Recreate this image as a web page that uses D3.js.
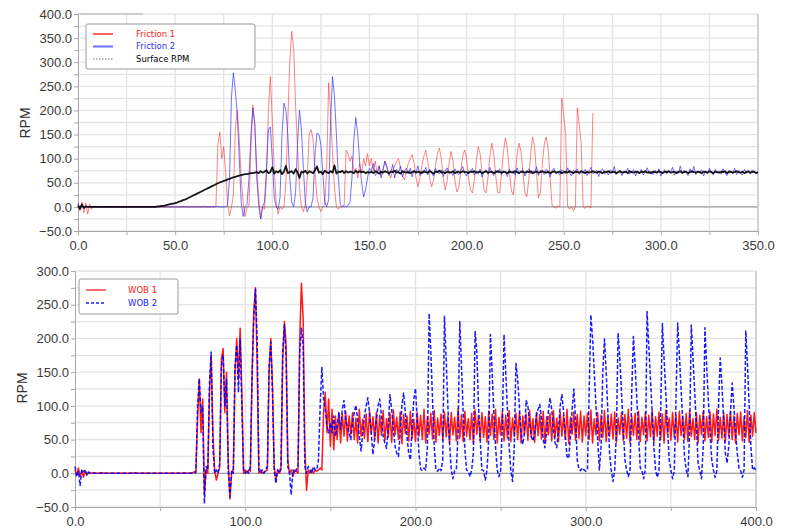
<!DOCTYPE html>
<head>
  <meta charset="utf-8">
  <script src="https://d3js.org/d3.v7.min.js"></script>
  <style>
    body { margin: 0; background: #fff; }
    svg { display: block; }
    .tick text { font-family: "Liberation Sans", Arial, sans-serif; font-size: 13px; fill: #3a3a3a; }
    .tick line { stroke: #a8a8a8; }
    .domain { stroke: #a8a8a8; }
    .ylabel { font-family: "Liberation Sans", Arial, sans-serif; font-size: 14px; fill: #333; }
    .legend text { font-family: "DejaVu Sans", sans-serif; font-size: 8.5px; }
  </style>
</head>

<body>
  <script>
    // ---- top panel: friction / surface RPM, one value per second starting at 0
    var friction1 = [
      5, -8, 10, -12, 8, -15, 6, -5, 2, 0,
      0, 0, 1, 0, 0, 0, 0, 0, 0, 0,
      0, 0, 0, 0, 0, 0, 0, 0, 0, 0,
      0, 0, 0, 0, 0, 0, 0, 0, 0, 0,
      0, 0, 0, 0, 0, 0, 0, 0, 0, 0,
      0, 0, 0, 0, 0, 0, 0, 0, 0, 0,
      0, 0, 0, 0, 0, 1, 0, 0, 0, 1,
      0, 2, 130, 155, 100, 125, 70, 5, -18, 0,
      25, 165, 200, 140, 60, 8, -20, 0, 2, 120,
      211, 170, 80, 20, -25, 0, -5, 60, 200, 270,
      180, 80, 10, -15, 0, -5, 0, 50, 180, 300,
      364, 330, 210, 120, 40, 0, -10, 5, 60, 150,
      160, 140, 70, 20, 0, -10, 0, 5, 80, 257,
      200, 110, 40, 0, -5, 0, 0, 5, 118, 110,
      95, 105, 75, 80, 60, 90, 70, 100, 85, 110,
      85, 100, 75, 95, 70, 85, 65, 80, 95, 85,
      70, 60, 75, 85, 95, 100, 80, 65, 56, 75,
      90, 100, 108, 90, 60, 42, 60, 85, 105, 118,
      95, 60, 42, 55, 85, 110, 122, 100, 60, 35,
      55, 90, 115, 95, 55, 31, 40, 75, 105, 118,
      100, 60, 35, 29, 55, 95, 125, 110, 70, 35,
      29, 60, 105, 132, 110, 65, 30, 29, 70, 115,
      143, 120, 75, 35, 25, 60, 110, 132, 115, 70,
      30, 21, 55, 110, 145, 125, 70, 19, 30, 90,
      130, 145, 120, 60, 3, 0, -3, 2, 0, 226,
      190, 150, 2, -5, 0, -8, 0, 205, 170, 130,
      0, -3, 2, 0, -2, 195
    ];

    var friction2 = [
      8, -5, 3, -3, 2, 0, 1, 0, 0, 0,
      0, 0, 0, 0, 0, 0, 0, 0, 0, 0,
      0, 0, 0, 0, 0, 0, 0, 0, 0, 0,
      0, 0, 0, 0, 0, 0, 0, 0, 0, 0,
      0, 0, 0, 0, 0, 0, 0, 0, 0, 0,
      0, 0, 0, 0, 0, 0, 0, 0, 0, 0,
      0, 0, 0, 0, 0, 0, 0, 0, 0, 0,
      0, 0, 1, 0, 0, 0, 0, 5, 60, 230,
      278, 240, 190, 100, 10, -20, 0, 5, 60, 150,
      205, 170, 60, 5, -25, 0, 10, 80, 160, 166,
      100, 20, 0, -5, 20, 150, 215, 200, 150, 60,
      10, 0, 30, 130, 201, 160, 80, 10, -10, 0,
      0, 20, 110, 153, 150, 130, 70, 10, 0, 15,
      180, 270, 230, 150, 60, 5, 0, 2, 0, 3,
      10, 60, 140, 185, 150, 90, 50, 21, 35, 60,
      80, 75, 90, 65, 70, 85, 60, 75, 95, 80,
      65, 72, 88, 60, 78, 70, 85, 62, 75, 80,
      68, 80, 62, 76, 72, 85, 65, 74, 70, 82,
      66, 78, 70, 64, 80, 72, 68, 77, 63, 74,
      81, 69, 73, 65, 79, 71, 67, 76, 84, 70,
      64, 75, 72, 80, 66, 74, 69, 78, 62, 73,
      77, 68, 82, 71, 65, 76, 70, 79, 67, 74,
      72, 63, 78, 70, 75, 66, 81, 69, 73, 77,
      64, 72, 79, 68, 74, 70, 83, 65, 76, 71,
      67, 78, 73, 62, 75, 80, 69, 72, 66, 77,
      74, 68, 81, 70, 64, 76, 72, 79, 67, 73,
      70, 78, 65, 74, 82, 69, 71, 76, 63, 75,
      79, 68, 73, 66, 77, 71, 84, 67, 72, 76,
      65, 74, 70, 80, 68, 73, 77, 64, 75, 71,
      78, 66, 72, 81, 69, 74, 67, 76, 70, 79,
      64, 73, 77, 68, 75, 71, 82, 66, 74, 70,
      85, 68, 76, 72, 65, 79, 70, 84, 67, 73,
      71, 77, 64, 75, 69, 80, 72, 66, 78, 70,
      74, 68, 79, 71, 65, 76, 73, 69, 80, 67,
      75, 71, 66, 78, 70, 74, 68, 77, 72, 69, 73
    ];

    var surfaceRpm = [
      3, -4, 5, -2, 1, 0, 0, 0, 0, 0,
      0, 0, 0, 0, 0, 0, 0, 0, 0, 0,
      0, 0, 0, 0, 0, 0, 0, 0, 0, 0,
      0, 0, 0, 0, 0, 0, 0, 0, 0, 0,
      0, 1, 1, 2, 2, 3, 4, 5, 6, 7,
      8, 9, 11, 12, 14, 15, 17, 19, 21, 23,
      25, 27, 29, 31, 33, 35, 37, 39, 41, 43,
      45, 47, 49, 51, 52, 54, 55, 57, 58, 60,
      61, 62, 64, 65, 66, 67, 68, 68, 69, 70,
      70, 71, 72, 70, 74, 71, 73, 76, 70, 72,
      82, 69, 74, 71, 76, 68, 73, 85, 70, 72,
      74, 69, 78, 72, 60, 73, 71, 75, 69, 74,
      72, 70, 76, 84, 71, 73, 68, 75, 72, 70,
      74, 71, 86, 69, 73, 72, 75, 70, 74, 71,
      73, 72, 70, 75, 71, 74, 72, 73, 70, 72,
      71, 73, 70, 74, 72, 69, 73, 71, 74, 72,
      70, 73, 72, 75, 71, 72, 69, 74, 72, 71,
      73, 70, 72, 74, 71, 73, 72, 70, 74, 72,
      71, 74, 72, 69, 73, 72, 75, 71, 72, 70,
      73, 72, 71, 74, 70, 72, 73, 71, 74, 72,
      72, 70, 73, 72, 74, 71, 72, 73, 70, 72,
      74, 71, 72, 73, 70, 72, 74, 72, 71, 73,
      72, 70, 73, 72, 71, 74, 72, 70, 73, 72,
      71, 73, 72, 74, 70, 72, 73, 71, 72, 74,
      72, 71, 73, 70, 72, 74, 71, 72, 73, 70,
      72, 73, 71, 74, 72, 70, 73, 72, 71, 74,
      72, 70, 73, 71, 72, 74, 72, 71, 73, 72,
      70, 73, 72, 74, 71, 72, 73, 70, 72, 74,
      71, 72, 73, 70, 74, 72, 71, 73, 72, 70,
      73, 72, 74, 71, 72, 70, 73, 72, 71, 74,
      72, 70, 73, 72, 74, 71, 72, 73, 70, 72,
      74, 71, 72, 73, 70, 72, 74, 72, 71, 73,
      72, 70, 73, 72, 71, 74, 72, 70, 73, 72,
      71, 73, 72, 74, 70, 72, 73, 71, 72, 74,
      72, 71, 73, 70, 72, 74, 71, 72, 73, 70, 72
    ];

    // ---- bottom panel: WOB 1 / WOB 2, one value per second starting at 0
    var wob1 = [
      5, -3, 8, -5, 3, -6, 4, -2, 1, 0,
      0, 1, 0, 0, 0, 0, 1, 0, 0, 0,
      0, 0, 0, 0, 0, 0, 0, 0, 0, 0,
      0, 0, 0, 0, 0, 1, 0, 0, 0, 0,
      0, 0, 0, 0, 0, 0, 0, 0, 0, 0,
      0, 0, 0, 0, 0, 0, 0, 0, 0, 0,
      0, 0, 0, 0, 1, 0, 0, 0, 0, 1,
      2, 3, 80, 140, 60, 110, -30, 5, 0, 120,
      175, 60, 5, -10, 0, 10, 170, 185, 90, 150,
      20, -38, 0, 5, 150, 200, 140, 215, 120, 0,
      5, 0, 5, 3, 150, 240, 275, 160, 0, 5,
      0, 2, 3, 5, 150, 200, 130, 10, -10, 5,
      0, 5, 170, 225, 190, 20, 0, 5, -5, 5,
      3, 0, 200, 282, 230, 40, -25, 5, 0, 5,
      0, 5, 3, 5, 8, 5, 90, 120, 60, 110,
      40, 95, 35, 85, 50, 90, 45, 88, 55, 92,
      48, 85, 58, 90, 50, 82, 45, 95, 55, 80,
      52, 88, 47, 92, 58, 84, 50, 90, 45, 86,
      56, 93, 49, 81, 53, 89, 46, 94, 57, 83,
      50, 91, 44, 87, 59, 85, 48, 92, 52, 80,
      47, 90, 55, 86, 50, 95, 45, 84, 58, 89,
      51, 93, 46, 82, 56, 88, 49, 91, 54, 85,
      45, 90, 57, 83, 48, 96, 52, 87, 47, 92,
      55, 81, 50, 89, 44, 94, 58, 86, 49, 90,
      53, 84, 46, 92, 56, 88, 50, 95, 45, 83,
      57, 90, 48, 86, 52, 93, 47, 82, 55, 89,
      50, 91, 45, 85, 58, 88, 49, 94, 53, 81,
      46, 90, 56, 87, 51, 92, 45, 84, 57, 89,
      48, 93, 53, 82, 47, 90, 55, 86, 50, 95,
      44, 83, 58, 91, 49, 87, 52, 92, 46, 85,
      56, 89, 50, 94, 45, 81, 57, 90, 48, 86,
      53, 93, 47, 84, 55, 88, 51, 91, 46, 82,
      58, 90, 49, 87, 52, 95, 45, 85, 56, 89,
      50, 92, 47, 83, 57, 90, 48, 86, 54, 93,
      46, 84, 55, 91, 50, 88, 45, 94, 58, 82,
      49, 90, 53, 87, 46, 92, 56, 85, 51, 89,
      47, 93, 55, 81, 50, 90, 45, 86, 57, 92,
      48, 84, 53, 91, 46, 88, 56, 95, 49, 83,
      52, 90, 47, 87, 55, 92, 50, 85, 45, 89,
      57, 91, 48, 84, 53, 93, 46, 86, 55, 90, 60
    ];

    var wob2 = [
      10, -5, 3, -18, 6, 2, 5, -3, 2, 0,
      0, 0, 0, 0, 0, 0, 0, 0, 0, 0,
      0, 0, 0, 0, 0, 0, 0, 0, 0, 0,
      0, 0, 0, 0, 0, 0, 0, 0, 0, 0,
      0, 0, 0, 0, 0, 0, 0, 0, 0, 0,
      0, 0, 0, 0, 0, 0, 0, 0, 0, 0,
      0, 0, 0, 0, 0, 0, 0, 0, 0, 0,
      0, 1, 100, 140, 90, 100, -45, 10, 5, 135,
      180, 40, 0, 5, 0, 15, 160, 175, 100, 140,
      5, -35, 5, 0, 160, 190, 120, 200, 100, 5,
      0, 5, 0, 10, 140, 230, 273, 200, 5, 0,
      5, 0, 5, 10, 160, 195, 120, 5, -15, 5,
      0, 10, 180, 220, 170, 10, 0, -32, 5, 0,
      5, 10, 180, 215, 190, 10, 0, 10, 5, 0,
      10, 5, 5, 20, 100, 158, 110, 95, 70, 60,
      75, 60, 85, 55, 70, 90, 65, 95, 108, 80,
      70, 60, 50, 75, 90, 101, 80, 55, 33, 60,
      85, 100, 112, 90, 60, 28, 50, 80, 100, 110,
      85, 55, 45, 37, 70, 117, 95, 65, 40, 30,
      25, 60, 100, 119, 90, 55, 30, 20, 70, 110,
      126, 80, 30, 6, 4, 8, 5, 40, 237, 180,
      110, 40, 5, 3, 8, 4, 20, 233, 170, 100,
      45, 5, -8, 4, 6, 60, 225, 160, 90, 35,
      5, 3, -5, 5, 30, 211, 180, 100, 50, 5,
      4, -10, 5, 50, 206, 150, 90, 40, 5, -5,
      4, 70, 206, 150, 95, 40, 4, -12, 40, 163,
      140, 100, 60, 43, 60, 108, 100, 75, 55, 48,
      60, 85, 95, 102, 80, 50, 38, 60, 90, 112,
      95, 65, 45, 38, 65, 100, 117, 90, 55, 25,
      22, 55, 95, 125, 80, 20, 6, 4, 8, 5,
      3, 6, 120, 235, 200, 150, 100, 50, 5, 40,
      150, 199, 150, 90, 30, 4, -12, 5, 60, 208,
      170, 120, 70, 20, 5, -5, 4, 120, 203, 160,
      110, 60, 8, 4, -8, 6, 240, 190, 140, 90,
      40, 5, -6, 4, 90, 222, 170, 120, 70, 20,
      5, -8, 4, 110, 223, 175, 125, 75, 25, 5,
      -5, 60, 220, 170, 120, 70, 15, 4, -8, 40,
      216, 160, 110, 60, 20, 5, -6, 4, 100, 171,
      130, 80, 30, 15, 40, 90, 134, 100, 60, 30,
      8, 4, -6, 5, 211, 160, 100, 40, 5, 8, 4
    ];

    var topXTicks = [0, 50, 100, 150, 200, 250, 300, 350];
    var topYTicks = [-50, 0, 50, 100, 150, 200, 250, 300, 350, 400];
    var bottomXTicks = [0, 100, 200, 300, 400];
    var bottomYTicks = [-50, 0, 50, 100, 150, 200, 250, 300];

    var svg = d3.select("body").append("svg")
      .attr("width", 786)
      .attr("height", 530);

    var fmt = d3.format(".1f");

    function toPoints(values) {
      return values.map(function(v, i) { return [i, v]; });
    }

    function drawPanel(p) {
      var x = d3.scaleLinear().domain(p.xDomain).range([p.left, p.right]);
      var y = d3.scaleLinear().domain(p.yDomain).range([p.bottom, p.top]);
      var g = svg.append("g");

      var xMinor = d3.range(p.xDomain[0], p.xDomain[1] + 0.01, p.xStep);
      var yMinor = d3.range(p.yDomain[0], p.yDomain[1] + 0.01, 25);

      // grid
      g.append("g").selectAll("line").data(xMinor.slice(1)).join("line")
        .attr("x1", function(d) { return x(d); }).attr("x2", function(d) { return x(d); })
        .attr("y1", p.top).attr("y2", p.bottom)
        .attr("stroke", "#e4e4e4").attr("stroke-width", 1.3);
      g.append("g").selectAll("line").data(yMinor).join("line")
        .attr("x1", p.left).attr("x2", p.right)
        .attr("y1", function(d) { return y(d); }).attr("y2", function(d) { return y(d); })
        .attr("stroke", "#e4e4e4").attr("stroke-width", 1.3);

      // zero line and frame
      g.append("line")
        .attr("x1", p.left).attr("x2", p.right)
        .attr("y1", y(0)).attr("y2", y(0))
        .attr("stroke", "#a0a0a0").attr("stroke-width", 1.2);
      g.append("line")
        .attr("x1", p.right).attr("x2", p.right)
        .attr("y1", p.top).attr("y2", p.bottom)
        .attr("stroke", "#c4c4c4").attr("stroke-width", 1.3);
      if (p.topEdge) {
        g.append("line")
          .attr("x1", p.left).attr("x2", p.topEdge)
          .attr("y1", p.top).attr("y2", p.top)
          .attr("stroke", "#c4c4c4").attr("stroke-width", 1.3);
      }

      // axes
      g.append("g")
        .attr("transform", "translate(0," + p.bottom + ")")
        .call(d3.axisBottom(x).tickValues(xMinor).tickSize(4).tickSizeOuter(0)
          .tickFormat(function(d) { return p.xTicks.indexOf(d) >= 0 ? fmt(d) : ""; }))
        .call(function(a) { a.selectAll("text").attr("dy", "0.95em"); });
      g.append("g")
        .attr("transform", "translate(" + p.left + ",0)")
        .call(d3.axisLeft(y).tickValues(yMinor).tickSize(4).tickSizeOuter(0)
          .tickFormat(function(d) { return p.yTicks.indexOf(d) >= 0 ? fmt(d) : ""; }))
        .call(function(a) { a.selectAll("text").attr("x", -6); });

      g.append("text")
        .attr("class", "ylabel")
        .attr("transform", "translate(" + p.labelX + "," + p.labelY + ") rotate(-90)")
        .attr("text-anchor", "middle")
        .text("RPM");

      var line = d3.line()
        .x(function(d) { return x(d[0]); })
        .y(function(d) { return y(d[1]); });

      var plot = g.append("g");
      p.series.forEach(function(s) {
        plot.append("path")
          .datum(toPoints(s.values))
          .attr("fill", "none")
          .attr("stroke", s.color)
          .attr("stroke-width", s.width)
          .attr("stroke-opacity", s.opacity)
          .attr("stroke-dasharray", s.dash || null)
          .attr("stroke-linejoin", "round")
          .attr("d", line);
      });

      // legend
      var lg = g.append("g").attr("class", "legend");
      lg.append("rect")
        .attr("x", p.legend.x).attr("y", p.legend.y)
        .attr("width", p.legend.w).attr("height", p.legend.h)
        .attr("rx", 2)
        .attr("fill", "#fff").attr("stroke", "#9a9a9a").attr("stroke-width", 1);
      p.legend.items.forEach(function(it, i) {
        var yy = p.legend.y + p.legend.first + i * p.legend.gap;
        lg.append("line")
          .attr("x1", p.legend.x + 7).attr("x2", p.legend.x + 27)
          .attr("y1", yy).attr("y2", yy)
          .attr("stroke", it.color).attr("stroke-width", it.width)
          .attr("stroke-dasharray", it.dash || null);
        lg.append("text")
          .attr("x", p.legend.x + p.legend.textX).attr("y", yy)
          .attr("dy", "0.35em")
          .attr("fill", it.textColor)
          .text(it.label);
      });
    }

    drawPanel({
      xDomain: [0, 350], yDomain: [-50, 400],
      left: 78, right: 758, top: 14, bottom: 231,
      xStep: 25, xTicks: topXTicks, yTicks: topYTicks,
      topEdge: 143, labelX: 30, labelY: 123,
      series: [
        { values: friction1, color: "#ff2020", width: 1, opacity: 0.55 },
        { values: friction2, color: "#2020ff", width: 1, opacity: 0.62 },
        { values: surfaceRpm, color: "#000", width: 1.8, opacity: 0.9 }
      ],
      legend: {
        x: 86, y: 24, w: 169, h: 45, first: 10, gap: 12.5, textX: 50,
        items: [
          { label: "Friction 1", color: "#ff6060", width: 2, textColor: "#ff2020" },
          { label: "Friction 2", color: "#7070ff", width: 2, textColor: "#3030ff" },
          { label: "Surface RPM", color: "#777", width: 1.2, dash: "1.5,1.5", textColor: "#000" }
        ]
      }
    });

    drawPanel({
      xDomain: [0, 400], yDomain: [-50, 300],
      left: 75, right: 756, top: 271, bottom: 507,
      xStep: 50, xTicks: bottomXTicks, yTicks: bottomYTicks,
      labelX: 27, labelY: 388,
      series: [
        { values: wob1, color: "#ff0000", width: 1.5, opacity: 0.9 },
        { values: wob2, color: "#0000ff", width: 1.5, opacity: 0.9, dash: "4,2" }
      ],
      legend: {
        x: 79, y: 279, w: 99, h: 35, first: 11, gap: 13, textX: 49,
        items: [
          { label: "WOB 1", color: "#ff2020", width: 1.3, textColor: "#ff2020" },
          { label: "WOB 2", color: "#2020ff", width: 1.3, dash: "3,2", textColor: "#2020ff" }
        ]
      }
    });
  </script>
</body>
